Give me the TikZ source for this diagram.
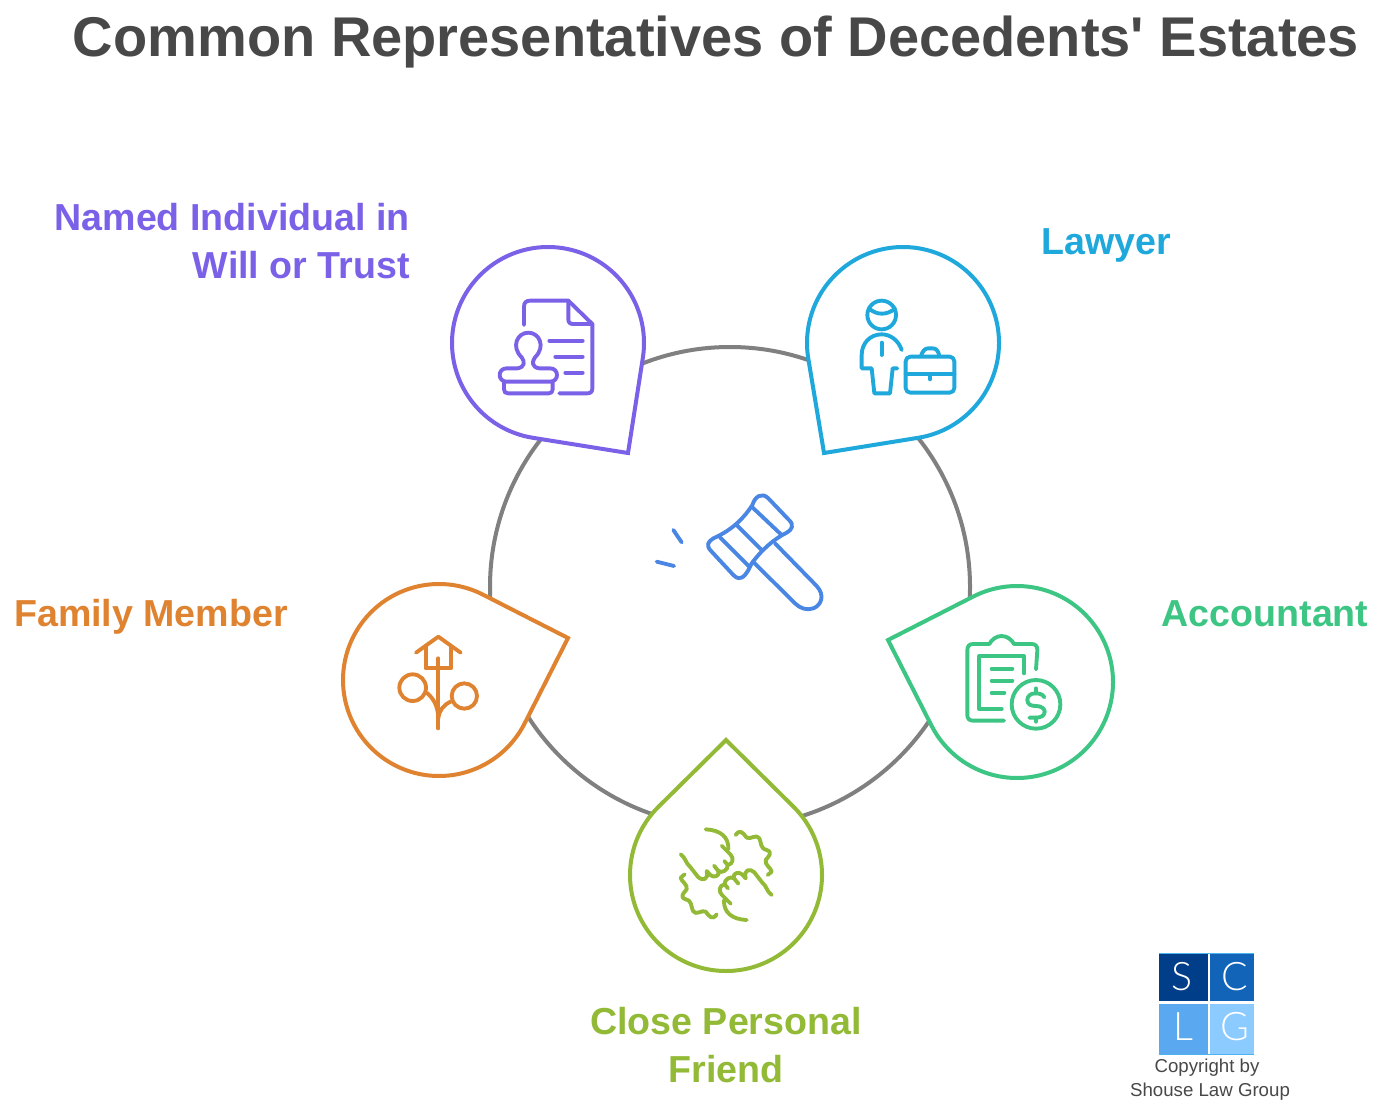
\documentclass[tikz,border=0pt]{standalone}
\usepackage{fontspec}
\setmainfont{Liberation Sans}
\newfontfamily\logofont{Lato}[UprightFont=* Light]
\definecolor{cpurple}{HTML}{7B61E8}
\definecolor{cblue}{HTML}{1FA8DC}
\definecolor{cgreen}{HTML}{3CC583}
\definecolor{colive}{HTML}{93BA36}
\definecolor{corange}{HTML}{E08330}
\definecolor{cgavel}{HTML}{4A86E3}
\definecolor{cdark}{HTML}{484848}
\definecolor{cring}{HTML}{808080}
\definecolor{logoS}{HTML}{003E8A}
\definecolor{logoC}{HTML}{1264B9}
\definecolor{logoL}{HTML}{5AA9F0}
\definecolor{logoG}{HTML}{8CCBFF}
\definecolor{logoEdge}{HTML}{4FB3F0}
\newcommand{\dropshape}[5]{%
  \pgfmathsetmacro\dropD{veclen(#4-#2,#5-#3)}%
  \pgfmathsetmacro\dropA{acos(96/\dropD)}%
  \pgfmathsetmacro\dropT{atan2(#5-#3,#4-#2)}%
  \pgfmathsetmacro\dropS{\dropT+\dropA}%
  \pgfmathsetmacro\dropE{\dropT+360-\dropA}%
  \filldraw[dropline,draw=#1] plot[domain=\dropS:\dropE,samples=90,smooth] ({#2+96*cos(\x)},{#3+96*sin(\x)}) -- (#4,#5) -- cycle;%
}
\newcommand{\handpath}{%
  \draw (47,118) .. controls (62,128) and (62,145) .. (75,155) -- (100,187) .. controls (112,198) and (132,195) .. (125,168) -- (136,180) .. controls (146,190) and (166,183) .. (160,168) -- (147,152);
  \draw (160,168) .. controls (170,176) and (190,165) .. (188,150) -- (178,138);
  \draw (170,92) -- (196,118) .. controls (207,128) and (205,148) .. (188,150);
  \draw (122,43) .. controls (165,45) and (192,65) .. (190,103);
  \draw (212,60) .. controls (225,40) and (235,55) .. (245,68) .. controls (255,75) and (275,55) .. (283,70) .. controls (290,85) and (285,100) .. (305,105) .. controls (325,112) and (310,125) .. (302,135) .. controls (298,150) and (320,160) .. (320,170) -- (308,180);
}
\tikzset{
  dropline/.style={line width=3pt,fill=white,line join=miter},
  iconline/.style={line width=2.9pt,line cap=round,line join=round},
  titletext/.style={font=\bfseries\fontsize{42}{50}\selectfont,text=cdark,inner sep=0pt},
  labeltext/.style={font=\bfseries\fontsize{28.2}{36}\selectfont,inner sep=0pt},
  smalltext/.style={font=\fontsize{14}{18}\selectfont,text=cdark,inner sep=0pt},
  logoletter/.style={font=\logofont\fontsize{29.5}{32}\selectfont,text=white,inner sep=0pt},
}
\begin{document}
\begin{tikzpicture}[x=.75pt,y=-.75pt]
\useasboundingbox (0,0) rectangle (1383,1113);
\fill[white] (0,0) rectangle (1383,1113);
\node[titletext] (title) at (716,42) {Common Representatives of Decedents\textquotesingle{} Estates};
\draw[cring,line width=3pt] (730,587) circle[radius=240];
\dropshape{cpurple}{548}{343}{628}{453}
\dropshape{cblue}{903}{343}{824}{453}
\dropshape{cgreen}{1017}{682}{888}{640}
\dropshape{colive}{726}{875}{726}{740}
\dropshape{corange}{439}{680}{568}{638}
\node[labeltext,text=cpurple,align=right,anchor=east] (named) at (410,241) {Named Individual in\\Will or Trust};
\node[labeltext,text=cblue] (lawyer) at (1106,245) {Lawyer};
\node[labeltext,text=cgreen] (accountant) at (1265,614) {Accountant};
\node[labeltext,text=corange] (family) at (151,617) {Family Member};
\node[labeltext,text=colive,align=center] (friend) at (726,1045) {Close Personal\\Friend};
% stamp and document
\begin{scope}[shift={(480,280)},x=.25pt,y=-.25pt,iconline,cpurple]
\draw (132,135) -- (132,80) .. controls (132,68) and (138,62) .. (150,62) -- (265,62) -- (337,132) -- (337,325) .. controls (337,335) and (332,340) .. (322,340) -- (238,340);
\draw (265,62) -- (265,118) .. controls (265,128) and (270,132) .. (280,132) -- (337,132);
\draw (208,182) -- (308,182);
\draw (226,230) -- (308,230);
\draw (256,278) -- (308,278);
\draw (80,265) -- (112,265) .. controls (135,262) and (135,245) .. (125,232) .. controls (92,200) and (112,158) .. (145,158) .. controls (178,158) and (198,200) .. (165,232) .. controls (155,245) and (155,262) .. (178,265) -- (210,265) .. controls (238,265) and (238,305) .. (210,305) -- (80,305) .. controls (52,305) and (52,265) .. (80,265) -- cycle;
\draw (72,305) -- (72,328) .. controls (72,336) and (76,340) .. (84,340) -- (206,340) .. controls (214,340) and (218,336) .. (218,328) -- (218,305);
\end{scope}
% person and briefcase
\begin{scope}[shift={(840,280)},x=.25pt,y=-.25pt,iconline,cblue]
\draw (125,105) circle[radius=43];
\draw (88,86) .. controls (110,106) and (140,106) .. (165,86);
\draw (185,210) .. controls (175,180) and (150,163) .. (125,163) .. controls (90,163) and (65,190) .. (65,225) -- (65,265) -- (95,265) -- (103,340) -- (150,340) -- (158,265) -- (172,265);
\draw (125,188) -- (125,225);
\draw[rounded corners=3.5pt] (197,230) rectangle (343,338);
\draw (197,283) -- (343,283);
\draw (270,283) -- (270,298);
\draw (243,228) .. controls (248,212) and (255,205) .. (265,205) -- (278,205) .. controls (288,205) and (295,212) .. (298,228);
\end{scope}
% gavel
\begin{scope}[shift={(640,480)},x=.25pt,y=-.25pt,iconline,cgavel]
\draw (337,75) .. controls (345,50) and (365,35) .. (385,55) -- (445,118) .. controls (465,135) and (455,150) .. (440,158) .. controls (400,178) and (365,210) .. (335,250) .. controls (325,270) and (322,278) .. (315,285) .. controls (300,300) and (290,295) .. (280,285) -- (215,215) .. controls (195,195) and (205,185) .. (220,175) .. controls (265,155) and (305,125) .. (337,75) -- cycle;
\draw (335,80) -- (425,165);
\draw (290,135) -- (365,210);
\draw (240,172) -- (328,260);
\draw (405,190) -- (530,318) .. controls (555,345) and (545,375) .. (520,385) .. controls (500,392) and (480,385) .. (465,370) -- (342,248);
\draw (100,150) -- (125,187);
\draw (50,245) -- (102,258);
\end{scope}
% clipboard and coin
\begin{scope}[shift={(950,620)},x=.25pt,y=-.25pt,iconline,cgreen]
\draw (162,302) -- (70,302) .. controls (58,302) and (52,296) .. (52,285) -- (52,90) .. controls (52,78) and (58,72) .. (70,72) -- (118,72) .. controls (125,58) and (140,48) .. (155,48) .. controls (170,48) and (185,58) .. (192,72) -- (245,72) .. controls (256,72) and (262,78) .. (262,90) -- (258,148);
\draw (155,267) -- (88,267) -- (88,108) -- (222,108) -- (222,160);
\draw (125,146) -- (187,146);
\draw (125,182) -- (187,182);
\draw (125,218) -- (163,218);
\draw (258,253) circle[radius=73];
\draw (283,232) .. controls (278,222) and (268,220) .. (255,220) .. controls (240,220) and (232,230) .. (232,240) .. controls (232,255) and (245,258) .. (258,258) .. controls (272,258) and (284,265) .. (284,275) .. controls (284,287) and (272,293) .. (258,293) -- (238,293);
\draw (258,205) -- (258,220);
\draw (258,293) -- (258,305);
\end{scope}
% family tree and house
\begin{scope}[shift={(380,620)},x=.25pt,y=-.25pt,iconline,corange]
\draw (108,98) -- (175,50) -- (242,98);
\draw (137,80) -- (137,145) -- (213,145) -- (213,80);
\draw (175,115) -- (175,325);
\draw (98,203) circle[radius=40];
\draw (253,228) circle[radius=38];
\draw (140,218) .. controls (160,235) and (172,255) .. (175,290);
\draw (212,245) .. controls (190,255) and (178,270) .. (175,295);
\end{scope}
% handshake
\begin{scope}[shift={(665,815)},x=.25pt,y=-.25pt,iconline,colive]
\handpath
\begin{scope}[shift={(367,358)},xscale=-1,yscale=-1]
\handpath
\end{scope}
\end{scope}
% logo
\fill[logoEdge] (1159,952.5) rectangle (1254,1054.5);
\fill[white] (1159,954) rectangle (1254,1054);
\fill[logoS] (1159,954) rectangle (1207.5,1001);
\fill[logoC] (1209.5,954) rectangle (1254,1001);
\fill[logoL] (1159,1004) rectangle (1207.5,1054);
\fill[logoG] (1209.5,1004) rectangle (1254,1054);
\node[logoletter] (logos) at (1182,977) {S};
\node[logoletter] (logoc) at (1235,977) {C};
\node[logoletter] (logol) at (1183,1027) {L};
\node[logoletter] (logog) at (1235,1027) {G};
\node[smalltext] (copy1) at (1207,1068) {Copyright by};
\node[smalltext] (copy2) at (1210,1092) {Shouse Law Group};
\end{tikzpicture}
\end{document}
